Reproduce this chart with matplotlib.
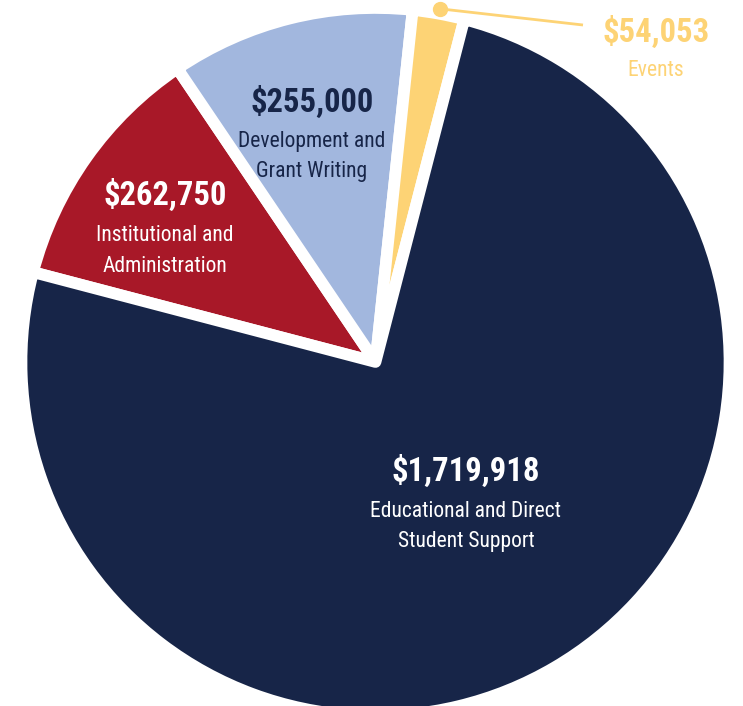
import matplotlib
matplotlib.use("Agg")
import matplotlib.pyplot as plt
from matplotlib import font_manager
import numpy as np

# data
categories = ["Institutional and\nAdministration", "Development and\nGrant Writing",
              "Events", "Educational and Direct\nStudent Support"]
values = [262750, 255000, 54053, 1719918]
value_labels = ["$262,750", "$255,000", "$54,053", "$1,719,918"]
colors = ["#A81828", "#A2B7DE", "#FDD375", "#172548"]
text_colors = ["white", "#172548", "#FDD375", "white"]

# label anchors in pixels from top: x centre, baseline of value, baseline of first text line
label_x = [165, 312, 656, 466]
value_base = [205, 112, 42, 481]
text_base = [241, 147, 76, 517]

# pick a narrow font if there is one
names = {f.name for f in font_manager.fontManager.ttflist}
font = "DejaVu Sans"
for cand in ["Liberation Sans Narrow", "Roboto Condensed", "Open Sans Condensed", "DejaVu Sans Condensed"]:
    if cand in names:
        font = cand
        break
stretch = "normal" if font != "DejaVu Sans" else "condensed"

W, H = 743, 706
fig = plt.figure(figsize=(W / 100, H / 100), dpi=100)
ax = fig.add_axes([0, 0, 1, 1])

cx, cy, R = 375.5, H - 362, 354
wedges, _ = ax.pie(values, colors=colors, startangle=165.3, counterclock=False,
                   center=(cx, cy), radius=R,
                   wedgeprops=dict(edgecolor="white", linewidth=8.4, joinstyle="round"))
ax.set_xlim(0, W)
ax.set_ylim(0, H)
ax.set_aspect("equal")
ax.axis("off")

for i in range(len(values)):
    x = label_x[i]
    ax.text(x, H - value_base[i], value_labels[i], ha="center", va="baseline", fontsize=23.5,
            fontweight="bold", color=text_colors[i], family=font, fontstretch=stretch)
    for j, line in enumerate(categories[i].split("\n")):
        ax.text(x, H - text_base[i] - 30.5 * j, line, ha="center", va="baseline", fontsize=15.5,
                color=text_colors[i], family=font, fontstretch=stretch)

# leader for the small Events slice, dot just outside the rim
ev = wedges[2]
mid = np.deg2rad((ev.theta1 + ev.theta2) / 2)
dx, dy = cx + (R + 5) * np.cos(mid), cy + (R + 5) * np.sin(mid)
ax.plot([dx, 583], [dy, H - 25], color="#FDD375", lw=2, solid_capstyle="butt", clip_on=False)
ax.plot([dx], [dy], "o", color="#FDD375", ms=10, clip_on=False)

fig.savefig("out.png", dpi=100)
